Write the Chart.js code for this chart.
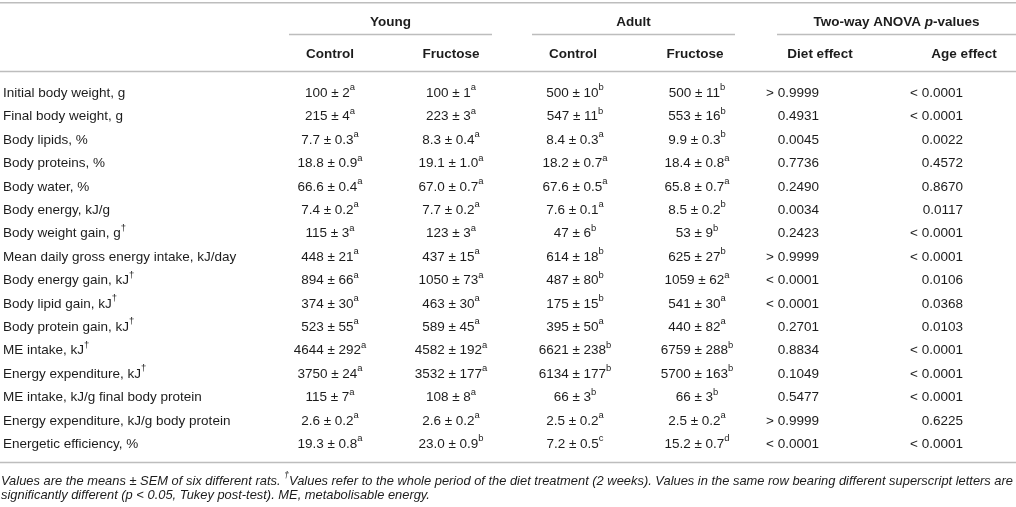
<!DOCTYPE html>
<html>
<head>
<meta charset="utf-8">
<script src="https://cdn.jsdelivr.net/npm/chart.js@4/dist/chart.umd.min.js"></script>
<style>
  html, body { margin: 0; padding: 0; background: #fff; }
  #wrap { width: 1016px; height: 507px; }
</style>
</head>
<body>
<div id="wrap"><canvas id="table-chart"></canvas></div>
<script>
// table rows (a trailing † is drawn as a superscript)
const rowLabels = [
    'Initial body weight, g',
    'Final body weight, g',
    'Body lipids, %',
    'Body proteins, %',
    'Body water, %',
    'Body energy, kJ/g',
    'Body weight gain, g†',
    'Mean daily gross energy intake, kJ/day',
    'Body energy gain, kJ†',
    'Body lipid gain, kJ†',
    'Body protein gain, kJ†',
    'ME intake, kJ†',
    'Energy expenditure, kJ†',
    'ME intake, kJ/g final body protein',
    'Energy expenditure, kJ/g body protein',
    'Energetic efficiency, %'
];

const groupLabels = ['Young', 'Adult', 'Two-way ANOVA '];
const columnLabels = ['Control', 'Fructose', 'Control', 'Fructose', 'Diet effect', 'Age effect'];

const youngControl = ['100 ± 2', '215 ± 4', '7.7 ± 0.3', '18.8 ± 0.9', '66.6 ± 0.4', '7.4 ± 0.2', '115 ± 3', '448 ± 21',
    '894 ± 66', '374 ± 30', '523 ± 55', '4644 ± 292', '3750 ± 24', '115 ± 7', '2.6 ± 0.2', '19.3 ± 0.8'];
const youngControlSup = ['a', 'a', 'a', 'a', 'a', 'a', 'a', 'a', 'a', 'a', 'a', 'a', 'a', 'a', 'a', 'a'];

const youngFructose = ['100 ± 1', '223 ± 3', '8.3 ± 0.4', '19.1 ± 1.0', '67.0 ± 0.7', '7.7 ± 0.2', '123 ± 3', '437 ± 15',
    '1050 ± 73', '463 ± 30', '589 ± 45', '4582 ± 192', '3532 ± 177', '108 ± 8', '2.6 ± 0.2', '23.0 ± 0.9'];
const youngFructoseSup = ['a', 'a', 'a', 'a', 'a', 'a', 'a', 'a', 'a', 'a', 'a', 'a', 'a', 'a', 'a', 'b'];

const adultControl = ['500 ± 10', '547 ± 11', '8.4 ± 0.3', '18.2 ± 0.7', '67.6 ± 0.5', '7.6 ± 0.1', '47 ± 6', '614 ± 18',
    '487 ± 80', '175 ± 15', '395 ± 50', '6621 ± 238', '6134 ± 177', '66 ± 3', '2.5 ± 0.2', '7.2 ± 0.5'];
const adultControlSup = ['b', 'b', 'a', 'a', 'a', 'a', 'b', 'b', 'b', 'b', 'a', 'b', 'b', 'b', 'a', 'c'];

const adultFructose = ['500 ± 11', '553 ± 16', '9.9 ± 0.3', '18.4 ± 0.8', '65.8 ± 0.7', '8.5 ± 0.2', '53 ± 9', '625 ± 27',
    '1059 ± 62', '541 ± 30', '440 ± 82', '6759 ± 288', '5700 ± 163', '66 ± 3', '2.5 ± 0.2', '15.2 ± 0.7'];
const adultFructoseSup = ['b', 'b', 'b', 'a', 'a', 'b', 'b', 'b', 'a', 'a', 'a', 'b', 'b', 'b', 'a', 'd'];

const dietEffect = ['> 0.9999', '0.4931', '0.0045', '0.7736', '0.2490', '0.0034', '0.2423', '> 0.9999',
    '< 0.0001', '< 0.0001', '0.2701', '0.8834', '0.1049', '0.5477', '> 0.9999', '< 0.0001'];
const ageEffect = ['< 0.0001', '< 0.0001', '0.0022', '0.4572', '0.8670', '0.0117', '< 0.0001', '< 0.0001',
    '0.0106', '0.0368', '0.0103', '< 0.0001', '< 0.0001', '< 0.0001', '0.6225', '< 0.0001'];

const footnote1 = 'Values are the means ± SEM of six different rats. ';
const footnote2 = 'Values refer to the whole period of the diet treatment (2 weeks). Values in the same row bearing different superscript letters are';
const footnote3 = 'significantly different (p < 0.05, Tukey post-test). ME, metabolisable energy.';

// layout (pixels on the x scale, which runs 0..1016)
const FONT = '"Liberation Sans", Arial, sans-serif';
const TEXT = '#1c1c1c';
const RULE = '#bdbdbd';
const colAnchor = [3, 330, 451, 575, 697, 819, 963];
const colAlign = ['left', 'center', 'center', 'center', 'center', 'right', 'right'];
const headAnchor = [330, 451, 573, 695, 820, 964];
const groupSpan = [[289, 492], [532, 735], [777, 1016]];

const valueCols = [
    [youngControl, youngControlSup],
    [youngFructose, youngFructoseSup],
    [adultControl, adultControlSup],
    [adultFructose, adultFructoseSup],
    [dietEffect, null],
    [ageEffect, null]
];

function makeDataset(colIdx) {
    return {
        label: 'col' + colIdx,
        data: rowLabels.map(r => ({ x: colAnchor[colIdx], y: r })),
        pointRadius: 0,
        pointHoverRadius: 0,
        showLine: false
    };
}

// draws a list of text pieces [{t, sup, italic, bold}] as one run
function drawRun(ctx, parts, x, y, align, size) {
    const fontFor = (p) => {
        const s = p.sup ? size * 0.7 : size;
        return (p.italic ? 'italic ' : '') + (p.bold ? 'bold ' : '') + s + 'px ' + FONT;
    };
    let total = 0;
    for (let p of parts) {
        ctx.font = fontFor(p);
        p.w = ctx.measureText(p.t).width;
        total += p.w;
    }
    let cx = x;
    if (align === 'center') cx = x - total / 2;
    if (align === 'right') cx = x - total;
    ctx.textAlign = 'left';
    ctx.textBaseline = 'middle';
    for (let p of parts) {
        ctx.font = fontFor(p);
        ctx.fillText(p.t, cx, p.sup ? y - size * 0.4 : y);
        cx += p.w;
    }
    return total;
}

function labelParts(label) {
    if (label.endsWith('†')) return [{ t: label.slice(0, -1) }, { t: '†', sup: true }];
    return [{ t: label }];
}

function hline(ctx, x1, x2, y) {
    ctx.beginPath();
    ctx.moveTo(x1, y);
    ctx.lineTo(x2, y);
    ctx.stroke();
}

const tablePlugin = {
    id: 'tableCells',
    afterDatasetsDraw(chart) {
        const ctx = chart.ctx;
        const xs = chart.scales.x;
        const ys = chart.scales.y;
        const step = ys.getPixelForValue(1) - ys.getPixelForValue(0);
        const top = ys.getPixelForValue(0);
        const bottom = ys.getPixelForValue(rowLabels.length - 1);
        const left = xs.getPixelForValue(0);
        const right = xs.getPixelForValue(1016);
        ctx.save();
        ctx.fillStyle = TEXT;

        // rules
        ctx.strokeStyle = RULE;
        ctx.lineWidth = 1.5;
        hline(ctx, left, right, top - step * 3.87);
        hline(ctx, left, right, top - step * 0.93);
        hline(ctx, left, right, bottom + step * 0.78);
        for (let g of groupSpan) {
            hline(ctx, xs.getPixelForValue(g[0]), xs.getPixelForValue(g[1]), top - step * 2.51);
        }

        // group headers
        const gy = top - step * 3.03;
        for (let i = 0; i < groupSpan.length; i++) {
            const cx = xs.getPixelForValue((groupSpan[i][0] + groupSpan[i][1]) / 2);
            const parts = [{ t: groupLabels[i], bold: true }];
            if (i === 2) parts.push({ t: 'p', bold: true, italic: true }, { t: '-values', bold: true });
            drawRun(ctx, parts, cx, gy, 'center', 13.5);
        }

        // column headers
        const hy = top - step * 1.65;
        for (let i = 0; i < columnLabels.length; i++) {
            drawRun(ctx, [{ t: columnLabels[i], bold: true }], xs.getPixelForValue(headAnchor[i]), hy, 'center', 13.5);
        }

        // body cells, placed at each dataset point
        chart.data.datasets.forEach((ds, c) => {
            const meta = chart.getDatasetMeta(c);
            meta.data.forEach((pt, r) => {
                let parts;
                if (c === 0) parts = labelParts(rowLabels[r]);
                else {
                    const [vals, sups] = valueCols[c - 1];
                    parts = [{ t: vals[r] }];
                    if (sups) parts.push({ t: sups[r], sup: true });
                }
                drawRun(ctx, parts, pt.x, pt.y, colAlign[c], 13.5);
            });
        });

        // footnote, squeezed to the full width
        const fs = 13;
        const fy1 = bottom + step * 1.57;
        const fy2 = bottom + step * 2.2;
        ctx.font = 'italic ' + fs + 'px ' + FONT;
        let w1 = ctx.measureText(footnote1).width + ctx.measureText(footnote2).width;
        ctx.font = 'italic ' + (fs * 0.7) + 'px ' + FONT;
        w1 += ctx.measureText('†').width;
        const sx = (right - left - 4) / w1;
        ctx.save();
        ctx.translate(left + 1, 0);
        ctx.scale(sx, 1);
        drawRun(ctx, [{ t: footnote1, italic: true }, { t: '†', italic: true, sup: true }, { t: footnote2, italic: true }], 0, fy1, 'left', fs);
        drawRun(ctx, [{ t: footnote3, italic: true }], 0, fy2, 'left', fs);
        ctx.restore();

        ctx.restore();
    }
};

new Chart(document.querySelector('#table-chart'), {
    type: 'scatter',
    data: { datasets: colAnchor.map((_, i) => makeDataset(i)) },
    options: {
        responsive: true,
        maintainAspectRatio: false,
        animation: false,
        events: [],
        layout: { padding: { top: 93.2, bottom: 62.8, left: 0, right: 0 } },
        plugins: { legend: { display: false }, tooltip: { enabled: false } },
        scales: {
            x: { type: 'linear', min: 0, max: 1016, display: false },
            y: { type: 'category', labels: rowLabels, offset: false, display: false }
        }
    },
    plugins: [tablePlugin]
});
</script>
</body>
</html>
